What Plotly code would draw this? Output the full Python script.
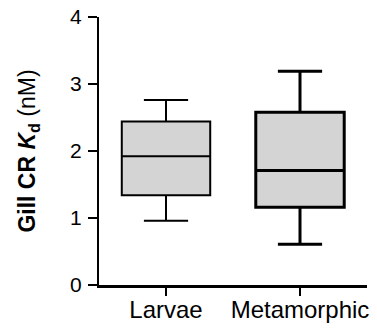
import plotly.graph_objects as go

categories = ["Larvae", "Metamorphic"]
q1 = [1.34, 1.16]
median = [1.92, 1.71]
q3 = [2.44, 2.58]
lower = [0.96, 0.61]
upper = [2.76, 3.19]
line_widths = [2, 3]

fig = go.Figure()
for i, c in enumerate(categories):
    fig.add_trace(go.Box(
        x=[c], q1=[q1[i]], median=[median[i]], q3=[q3[i]],
        lowerfence=[lower[i]], upperfence=[upper[i]],
        fillcolor="#d4d4d4",
        line=dict(color="black", width=line_widths[i]),
        whiskerwidth=0.5, width=0.66, boxpoints=False,
        showlegend=False, hoverinfo="skip",
    ))

fig.update_layout(
    width=377, height=330,
    margin=dict(l=99, r=10, t=17, b=45, autoexpand=False),
    plot_bgcolor="white", paper_bgcolor="white",
    boxmode="overlay",
    font=dict(family="Liberation Sans, Arial, sans-serif", color="black"),
    xaxis=dict(
        type="category", range=[-0.5, 1.5], automargin=False,
        showline=True, linecolor="black", linewidth=3,
        ticks="outside", ticklen=8, tickwidth=2, tickcolor="black",
        tickfont=dict(size=24), showgrid=False, zeroline=False,
        ticklabelstandoff=-7,
    ),
    yaxis=dict(
        range=[0, 4], dtick=1, tick0=0, automargin=False,
        showline=True, linecolor="black", linewidth=2,
        ticks="outside", ticklen=9, tickwidth=2, tickcolor="black",
        tickfont=dict(size=21), showgrid=False, zeroline=False,
        ticklabelstandoff=2,
        title=dict(text="<b>Gill CR <i>K</i><sub>d</sub></b> (nM)",
                   font=dict(size=23), standoff=28),
    ),
)

fig.write_html("out.html")
